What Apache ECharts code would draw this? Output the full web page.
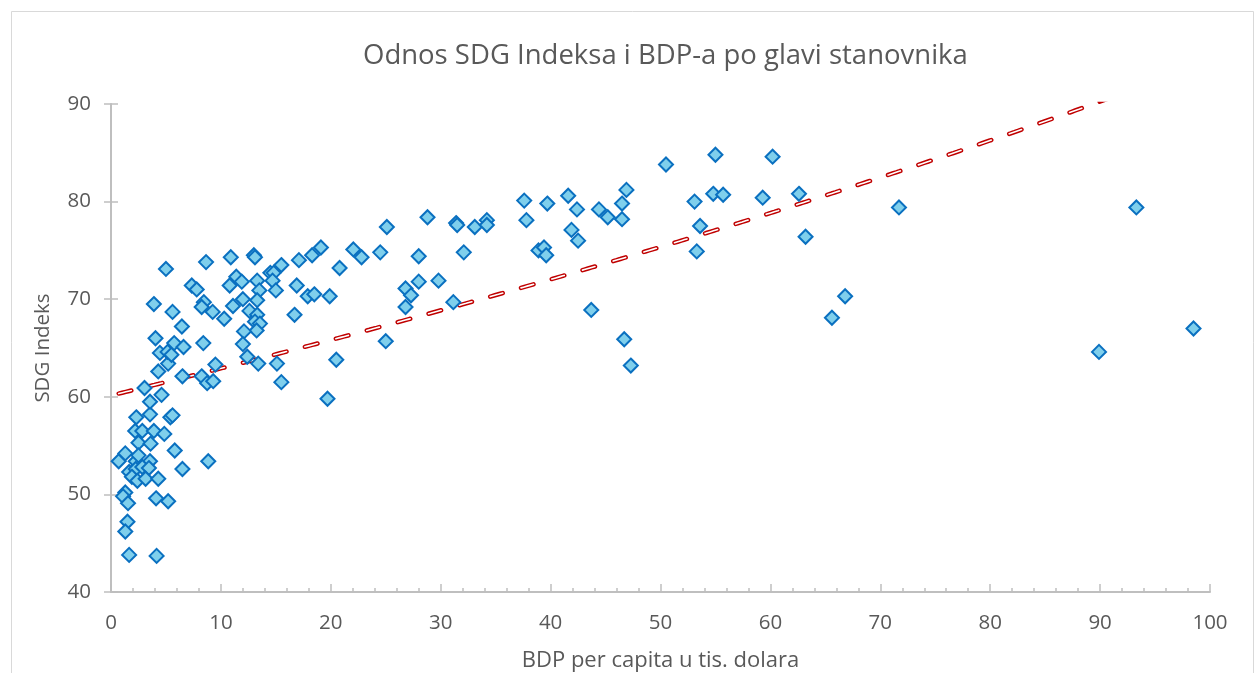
<!DOCTYPE html>
<html>
<head>
<meta charset="utf-8">
<script src="https://cdn.jsdelivr.net/npm/echarts@6/dist/echarts.min.js"></script>
<style>
html,body{margin:0;padding:0;background:#fff;}
#main{width:1256px;height:673px;}
</style>
</head>
<body>
<div id="main"></div>
<script>
// GDP per capita (thousand USD)
const gdp = [
 0.7,1.3,2.3,3.55,5.4,5.6,2.2,2.85,3.9,4.85,
 2.5,3.6,5.8,2.25,2.5,3.55,8.85,1.65,2.25,2.85,
 3.45,6.5,1.9,2.4,3.15,4.3,1.3,1.1,1.55,4.1,
 5.2,1.5,1.3,1.65,4.15,3.55,4.6,3.05,
 4.3,5.2,4.45,5.15,5.5,4.05,5.75,6.6,8.4,6.45,
 3.9,5.6,6.5,8.25,8.75,9.3,9.5,8.45,8.25,9.25,
 10.3,5.0,8.65,7.35,7.8,
 10.9,13.0,13.1,15.5,17.1,18.3,19.1,11.4,10.8,11.9,
 13.3,14.5,14.8,14.7,13.5,15.0,16.9,11.1,12.0,13.3,
 12.6,13.3,13.1,13.55,13.25,12.1,12.0,12.4,13.4,15.1,
 15.5,16.7,17.9,18.5,19.9,19.7,20.5,
 22.05,22.8,24.5,20.8,25.1,28.8,28.0,28.0,26.8,27.3,
 26.8,29.8,31.15,25.0,31.4,31.5,33.1,34.2,34.2,32.1,
 37.6,37.8,39.7,41.6,42.4,44.4,45.2,46.5,46.9,46.5,
 41.9,42.5,38.9,39.4,39.6,43.7,46.7,47.3,
 50.5,55.0,60.2,53.1,54.8,55.7,59.3,62.6,53.6,53.3,
 71.7,63.2,66.8,65.6,93.3,98.5,89.9
];
// SDG index
const sdg = [
 53.4,54.2,57.9,58.2,57.9,58.1,56.5,56.5,56.5,56.2,
 55.3,55.2,54.5,53.4,54.0,53.4,53.4,52.3,52.6,52.8,
 52.7,52.6,51.8,51.4,51.6,51.6,50.2,49.8,49.1,49.6,
 49.3,47.2,46.2,43.8,43.7,59.5,60.2,60.9,
 62.6,63.4,64.5,64.6,64.3,66.0,65.5,65.1,65.5,67.2,
 69.5,68.7,62.1,62.1,61.4,61.6,63.3,69.7,69.2,68.7,
 68.0,73.1,73.8,71.4,71.0,
 74.3,74.5,74.3,73.5,74.0,74.5,75.3,72.3,71.4,71.8,
 71.9,72.7,72.7,71.9,70.9,70.9,71.4,69.3,70.0,69.9,
 68.8,68.4,67.7,67.5,66.8,66.7,65.4,64.1,63.4,63.4,
 61.5,68.4,70.3,70.5,70.3,59.8,63.8,
 75.1,74.3,74.8,73.2,77.4,78.4,74.4,71.8,71.1,70.4,
 69.2,71.9,69.7,65.7,77.8,77.6,77.4,78.1,77.6,74.8,
 80.1,78.1,79.8,80.6,79.2,79.2,78.4,79.8,81.2,78.2,
 77.1,76.0,75.0,75.3,74.5,68.9,65.9,63.2,
 83.8,84.8,84.6,80.0,80.8,80.7,80.4,80.8,77.5,74.9,
 79.4,76.4,70.3,68.1,79.4,67.0,64.6
];
const xTicks = [0,10,20,30,40,50,60,70,80,90,100];
const yTicks = [40,50,60,70,80,90];
// Exponential trendline y = a*e^(b*x), coefficients
const trendA = 60.14;
const trendB = 0.00451;

const points = gdp.map((x,i)=>[x, sdg[i]]);
const xmin = Math.min(...gdp), xmax = Math.max(...gdp);
const trend = [];
const steps = 300;
for (let k=0;k<=steps;k++){ const x = xmin + (xmax-xmin)*k/steps; trend.push([x, trendA*Math.exp(trendB*x)]); }

const FONT = 'Open Sans';
const TXT = '#595959';
const AX = '#bfbfbf';

const chart = echarts.init(document.getElementById('main'), null, {renderer:'canvas'});
chart.setOption({
  animation:false,
  backgroundColor:'#fff',
  graphic:[{type:'rect', shape:{x:11.5,y:11.5,width:1242,height:700}, style:{fill:'none', stroke:'#d9d9d9', lineWidth:1}, silent:true, z:-10}],
  title:{text:'Odnos SDG Indeksa i BDP-a po glavi stanovnika', left:358, top:37,
    textStyle:{fontFamily:FONT, fontSize:27.5, fontWeight:'normal', color:TXT}},
  grid:{left:111, right:46, top:104, bottom:81, containLabel:false, outerBoundsMode:'none'},
  xAxis:{type:'value', min:0, max:100, interval:10,
    name:'BDP per capita u tis. dolara', nameLocation:'middle', nameGap:58,
    nameTextStyle:{fontFamily:FONT, fontSize:22, color:TXT},
    axisLine:{show:true, onZero:false, lineStyle:{color:AX, width:2}},
    axisTick:{show:true, inside:true, length:8, lineStyle:{color:AX, width:1.5}},
    minorTick:{show:true, splitNumber:5, length:4, lineStyle:{color:AX, width:1.5}},
    splitLine:{show:false}, minorSplitLine:{show:false},
    axisLabel:{fontFamily:FONT, fontSize:20.5, color:TXT, margin:21, formatter:v=>xTicks.includes(v)?String(v):''}
  },
  yAxis:[{type:'value', min:40, max:90, interval:10,
    name:'SDG Indeks', nameLocation:'middle', nameGap:57, nameRotate:90,
    nameTextStyle:{fontFamily:FONT, fontSize:20.5, color:TXT},
    axisLine:{show:true, onZero:false, lineStyle:{color:AX, width:2}},
    axisTick:{show:true, inside:false, length:7, lineStyle:{color:AX, width:1.5}},
    splitLine:{show:false},
    axisLabel:{fontFamily:FONT, fontSize:20.5, color:TXT, margin:20, formatter:v=>yTicks.includes(v)?String(v):''}
  },{type:'value', min:40, max:90, interval:10, position:'left',
    axisLine:{show:false}, axisLabel:{show:false}, splitLine:{show:false},
    axisTick:{show:true, inside:true, length:7, lineStyle:{color:AX, width:1.5}}
  }],
  series:[
    {type:'line', data:trend, showSymbol:false, symbol:'none', clip:true, z:3, silent:true,
      lineStyle:{color:'#c00000', width:4.5, type:[13,19], cap:'round'}},
    {type:'line', data:trend, showSymbol:false, symbol:'none', clip:true, z:4, silent:true,
      lineStyle:{color:'#ffffff', width:1.6, type:[13,19], cap:'round'}},
    {type:'scatter', data:points, symbol:'diamond', symbolSize:14, z:5,
      itemStyle:{color:'#7fcfec', borderColor:'#0a70c0', borderWidth:2, opacity:1}}
  ]
});
</script>
</body>
</html>
